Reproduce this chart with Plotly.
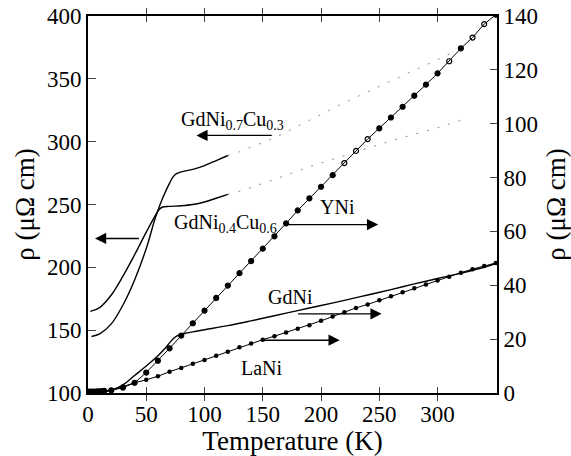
import plotly.graph_objects as go

# ---------------- data ----------------
# Left axis (rho, µΩ cm, 100-400): GdNi(1-x)Cu(x) alloys
T_gd04 = [2, 10, 20, 30, 40, 50, 57, 61, 64, 70, 80, 90, 100, 110, 120]
rho_gd04 = [165, 168, 178, 193, 210, 228, 240, 246, 248, 248.5, 249, 250, 252, 255, 258]

T_gd07 = [3, 10, 20, 30, 40, 50, 58, 64, 70, 73, 76, 80, 90, 100, 110, 120]
rho_gd07 = [145, 147, 155, 170, 190, 215, 240, 255, 267, 272, 274.5, 276, 278, 281, 285, 289]

# faint dotted continuations at higher temperature
T_gd07_dot = [120, 130, 160, 190, 220, 250, 280, 311]
rho_gd07_dot = [289, 292, 303, 317, 331, 344, 357, 370]
T_gd04_dot = [120, 135, 160, 190, 230, 265, 300, 320]
rho_gd04_dot = [258, 262, 270, 280, 292, 302, 311, 317]

# Right axis (rho, µΩ cm, 0-140)
T_yni = [0, 2, 4, 6, 8, 10, 12, 14, 20, 30, 40, 50, 60, 70, 80, 90, 100, 110, 120, 130, 140,
         150, 160, 170, 180, 190, 200, 210, 220, 230, 240, 250, 260, 270, 280, 290, 300,
         310, 320, 330, 340, 350]
rho_yni = [0.5, 0.5, 0.5, 0.5, 0.6, 0.6, 0.7, 0.8, 1.0, 2.0, 3.8, 7.6, 12.0, 16.6, 21.3, 25.9,
           30.6, 35.3, 39.9, 44.5, 49.0, 53.6, 58.2, 63.0, 67.8, 72.3, 76.6, 80.9, 85.4,
           89.9, 94.3, 98.3, 102.3, 106.3, 110.4, 114.5, 118.7, 123.2, 128.0, 132.0, 137.0,
           140.5]
yni_open_T = [220, 230, 240, 310, 330, 340]

T_gdni = [0, 10, 20, 30, 40, 50, 60, 66, 70, 74, 78, 82, 90, 100, 120, 140, 160, 180, 200,
          220, 240, 260, 280, 300, 320, 340, 351]
rho_gdni = [0.4, 0.5, 1.0, 3.0, 6.5, 10.0, 13.8, 16.5, 18.6, 20.5, 21.6, 22.0, 22.7, 23.5,
            25.0, 26.8, 28.7, 30.6, 32.5, 34.4, 36.4, 38.4, 40.5, 42.5, 44.5, 46.7, 48.2]

T_lani = [0, 2, 4, 6, 8, 10, 12, 14, 20, 30, 40, 50, 60, 70, 80, 90, 100, 110, 120, 130, 140,
          150, 160, 170, 180, 190, 200, 210, 220, 230, 240, 250, 260, 270, 280, 290, 300,
          310, 320, 330, 340, 350]
rho_lani = [0.3, 0.3, 0.3, 0.3, 0.3, 0.4, 0.4, 0.5, 1.0, 2.4, 3.8, 4.9, 6.2, 7.9, 9.3, 10.9,
            12.3, 13.8, 15.3, 17.0, 18.4, 19.8, 21.1, 22.5, 23.9, 25.2, 26.8, 28.4, 30.0,
            31.6, 32.9, 34.4, 35.9, 37.4, 38.9, 40.3, 41.8, 43.2, 44.7, 46.0, 47.2, 48.3]

x_ticks = [0, 50, 100, 150, 200, 250, 300]
yl_ticks = [100, 150, 200, 250, 300, 350, 400]
yr_ticks = [0, 20, 40, 60, 80, 100, 120, 140]

# ---------------- figure ----------------
FONT = "Times New Roman"
fig = go.Figure()

solid = dict(color="black", width=1.4)
dotted = dict(color="#8a8a8a", width=1, dash="2px,9px")

fig.add_trace(go.Scatter(x=T_gd04, y=rho_gd04, mode="lines", line=solid,
                         line_shape="spline", name="GdNi0.4Cu0.6", yaxis="y"))
fig.add_trace(go.Scatter(x=T_gd07, y=rho_gd07, mode="lines", line=solid,
                         line_shape="spline", name="GdNi0.7Cu0.3", yaxis="y"))
fig.add_trace(go.Scatter(x=T_gd07_dot, y=rho_gd07_dot, mode="lines", line=dotted,
                         name="GdNi0.7Cu0.3 (cont.)", yaxis="y"))
fig.add_trace(go.Scatter(x=T_gd04_dot, y=rho_gd04_dot, mode="lines", line=dotted,
                         name="GdNi0.4Cu0.6 (cont.)", yaxis="y"))

sym_yni = ["circle-open" if t in yni_open_T else "circle" for t in T_yni]
fig.add_trace(go.Scatter(x=T_yni, y=rho_yni, mode="lines+markers", yaxis="y2",
                         line=dict(color="black", width=1),
                         marker=dict(color="black", size=5, symbol=sym_yni,
                                     line=dict(color="black", width=1.2)),
                         name="YNi"))
fig.add_trace(go.Scatter(x=T_gdni, y=rho_gdni, mode="lines", yaxis="y2",
                         line=solid, line_shape="spline", name="GdNi"))
fig.add_trace(go.Scatter(x=T_lani, y=rho_lani, mode="lines+markers", yaxis="y2",
                         line=dict(color="black", width=1),
                         marker=dict(color="black", size=4.5, symbol="circle"),
                         name="LaNi"))

tickfont = dict(family=FONT, size=23, color="black")
titlefont = dict(family=FONT, size=27, color="black")
fig.update_layout(
    width=571, height=456,
    margin=dict(l=88, r=74, t=16, b=63),
    paper_bgcolor="white", plot_bgcolor="white",
    showlegend=False,
    font=dict(family=FONT, color="black"),
    xaxis=dict(range=[0, 351], tickvals=x_ticks, ticks="inside", ticklen=6, tickwidth=1.2,
               showline=True, linecolor="black", linewidth=1.6, mirror="allticks",
               showgrid=False, zeroline=False, tickfont=tickfont, automargin=False,
               title=dict(text="Temperature (K)", font=titlefont, standoff=4)),
    yaxis=dict(range=[100, 400], tickvals=yl_ticks, ticks="inside", ticklen=8, tickwidth=1.2,
               showline=True, linecolor="black", linewidth=1.6, mirror=True,
               showgrid=False, zeroline=False, tickfont=tickfont, automargin=False,
               title=dict(text="ρ (μΩ cm)", font=titlefont, standoff=5)),
    yaxis2=dict(range=[0, 140], tickvals=yr_ticks, ticks="inside", ticklen=7, tickwidth=1.2,
                overlaying="y", side="right", showline=True, linecolor="black", linewidth=1.6,
                showgrid=False, zeroline=False, tickfont=tickfont, automargin=False,
                title=dict(text="ρ (μΩ cm)", font=titlefont, standoff=13)),
)

lab = dict(family=FONT, size=20, color="black")
texts = [
    ("GdNi<sub>0.7</sub>Cu<sub>0.3</sub>", 124, 317),
    ("GdNi<sub>0.4</sub>Cu<sub>0.6</sub>", 118, 235),
    ("YNi", 214, 248),
    ("GdNi", 174, 176),
    ("LaNi", 149, 120),
]
for t, x, y in texts:
    fig.add_annotation(text=t, x=x, y=y, xref="x", yref="y", showarrow=False, font=lab)

arrows = [  # (tail_x, head_x, y)
    (159, 93, 305),
    (45, 6, 223),
    (169, 249, 234),
    (179, 252, 163),
    (150, 216, 142),
]
for tx, hx, y in arrows:
    fig.add_annotation(x=hx, y=y, ax=tx, ay=y, xref="x", yref="y", axref="x", ayref="y",
                       text="", showarrow=True, arrowhead=2, arrowsize=1.6, arrowwidth=1.4,
                       arrowcolor="black")

fig.write_html("out.html")
